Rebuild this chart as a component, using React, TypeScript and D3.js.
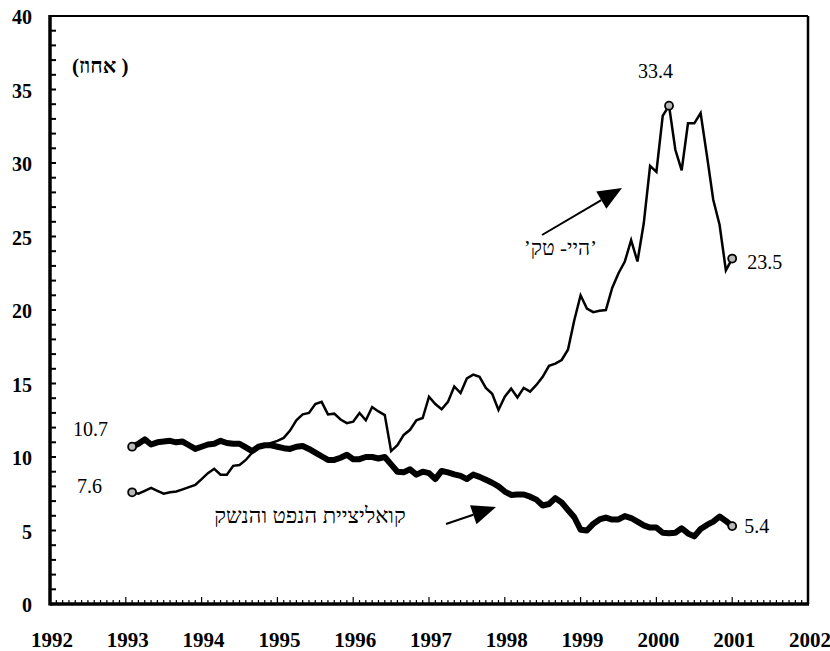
import * as d3 from "d3";
import { useEffect, useRef } from "react";

// monthly observations, Feb 1993 .. Jan 2001
const startYear = 1993;
const hiTech = [
  7.6, 7.5, 7.7, 7.9, 7.7, 7.5, 7.6, 7.65, 7.8, 7.95, 8.1, 8.5,
  8.9, 9.2, 8.8, 8.8, 9.4, 9.46, 9.8, 10.3, 10.6, 10.8, 10.95, 11.1,
  11.3, 11.8, 12.5, 12.9, 13.0, 13.6, 13.75, 12.9, 12.95, 12.55, 12.3, 12.4,
  13.0, 12.5, 13.4, 13.1, 12.85, 10.4, 10.8, 11.5, 11.85, 12.5, 12.65, 14.1,
  13.6, 13.25, 13.75, 14.8, 14.35, 15.35, 15.6, 15.45, 14.7, 14.3, 13.2, 14.1,
  14.65, 14.05, 14.7, 14.45, 14.9, 15.45, 16.2, 16.35, 16.6, 17.3, 19.3, 21.0,
  20.1, 19.85, 19.95, 20.0, 21.5, 22.5, 23.3, 24.75, 23.3, 25.9, 29.8, 29.4,
  33.2, 33.9, 30.9, 29.5, 32.7, 32.7, 33.4, 30.5, 27.5, 25.8, 22.7, 23.5,
];
const oilArms = [
  10.7, 10.9, 11.2, 10.85, 11.0, 11.05, 11.1, 11.0, 11.05, 10.8, 10.55, 10.7,
  10.85, 10.9, 11.1, 10.95, 10.9, 10.9, 10.65, 10.4, 10.7, 10.8, 10.8, 10.7,
  10.6, 10.55, 10.7, 10.75, 10.55, 10.3, 10.05, 9.8, 9.8, 9.95, 10.15, 9.85,
  9.85, 10.0, 10.0, 9.9, 10.0, 9.5, 9.0, 8.97, 9.16, 8.8, 9.0, 8.9,
  8.5, 9.05, 8.95, 8.82, 8.72, 8.5, 8.8, 8.65, 8.45, 8.25, 8.0, 7.65,
  7.42, 7.45, 7.45, 7.3, 7.1, 6.7, 6.8, 7.2, 6.9, 6.4, 5.9, 5.05,
  5.0, 5.45, 5.75, 5.88, 5.74, 5.75, 5.98, 5.85, 5.6, 5.35, 5.2, 5.2,
  4.85, 4.82, 4.85, 5.15, 4.8, 4.6, 5.1, 5.38, 5.6, 5.95, 5.65, 5.3,
];
const peakIndex = 85;
const yTicks = [0, 5, 10, 15, 20, 25, 30, 35, 40];
const years = [1992, 1993, 1994, 1995, 1996, 1997, 1998, 1999, 2000, 2001, 2002];
const unitLabel = "(אחוז )";
const hiTechLabel = "’היי- טק’";
const oilLabel = "קואליציית הנפט והנשק";
const hiTechStartLabel = "7.6";
const oilStartLabel = "10.7";
const hiTechPeakLabel = "33.4";
const hiTechEndLabel = "23.5";
const oilEndLabel = "5.4";

const W = 830;
const H = 651;
const serif = "'Liberation Serif', 'Times New Roman', serif";

export default function App() {
  const ref = useRef<SVGSVGElement>(null);

  useEffect(() => {
    const svg = d3.select(ref.current);
    svg.selectAll("*").remove();

    const x = d3.scaleLinear().domain([1992, 2002]).range([50, 808]);
    const y = d3.scaleLinear().domain([0, 40]).range([604, 16]);
    const t = (i: number) => startYear + (i + 1) / 12;

    // frame
    svg.append("line").attr("x1", x(1992)).attr("x2", x(2002)).attr("y1", y(40)).attr("y2", y(40))
      .attr("stroke", "#000").attr("stroke-width", 2);
    svg.append("line").attr("x1", x(2002)).attr("x2", x(2002)).attr("y1", y(40)).attr("y2", y(0))
      .attr("stroke", "#000").attr("stroke-width", 2.5);

    // y ticks, one per unit
    const yMinor = d3.range(0, 41);
    svg.selectAll(".ytick").data(yMinor).enter().append("line")
      .attr("x1", x(1992)).attr("x2", x(1992) + 6)
      .attr("y1", (d) => y(d)).attr("y2", (d) => y(d))
      .attr("stroke", "#000").attr("stroke-width", 2);

    svg.selectAll(".ylab").data(yTicks).enter().append("text")
      .attr("x", 32).attr("y", (d) => y(d) + 8)
      .attr("text-anchor", "end")
      .attr("font-family", serif).attr("font-weight", "bold").attr("font-size", 20)
      .text((d) => d);

    // x ticks, monthly
    const months = d3.range(0, 121);
    svg.selectAll(".xtick").data(months).enter().append("line")
      .attr("x1", (d) => x(1992 + d / 12)).attr("x2", (d) => x(1992 + d / 12))
      .attr("y1", y(0)).attr("y2", (d) => y(0) - (d % 12 === 0 ? 7 : 4))
      .attr("stroke", "#000").attr("stroke-width", 1.2);

    svg.selectAll(".xlab").data(years).enter().append("text")
      .attr("x", (d) => x(d) + 2).attr("y", 647)
      .attr("text-anchor", "middle")
      .attr("font-family", serif).attr("font-weight", "bold").attr("font-size", 21)
      .text((d) => d);

    // left / bottom axis lines
    svg.append("line").attr("x1", x(1992)).attr("x2", x(1992)).attr("y1", y(40) - 1).attr("y2", y(0) + 1.5)
      .attr("stroke", "#000").attr("stroke-width", 3.5);
    svg.append("line").attr("x1", x(1992)).attr("x2", x(2002) + 1).attr("y1", y(0)).attr("y2", y(0))
      .attr("stroke", "#000").attr("stroke-width", 3.5);

    const line = d3.line<number>().x((_, i) => x(t(i))).y((d) => y(d));

    svg.append("path").datum(hiTech).attr("d", line)
      .attr("fill", "none").attr("stroke", "#000").attr("stroke-width", 2.5)
      .attr("stroke-linejoin", "miter");
    svg.append("path").datum(oilArms).attr("d", line)
      .attr("fill", "none").attr("stroke", "#000").attr("stroke-width", 6)
      .attr("stroke-linejoin", "round");

    const dots = [
      { i: 0, v: hiTech[0] },
      { i: 0, v: oilArms[0] },
      { i: peakIndex, v: hiTech[peakIndex] },
      { i: hiTech.length - 1, v: hiTech[hiTech.length - 1] },
      { i: oilArms.length - 1, v: oilArms[oilArms.length - 1] },
    ];
    svg.selectAll(".dot").data(dots).enter().append("circle")
      .attr("cx", (d) => x(t(d.i))).attr("cy", (d) => y(d.v)).attr("r", 4)
      .attr("fill", "#b8b8b8").attr("stroke", "#000").attr("stroke-width", 1.8);

    const valueText = (tx: number, ty: number, s: string, anchor = "start") =>
      svg.append("text").attr("x", tx).attr("y", ty).attr("text-anchor", anchor)
        .attr("font-family", serif).attr("font-size", 20).text(s);

    const firstX = x(t(0));
    const lastX = x(t(hiTech.length - 1));
    valueText(firstX - 24, y(oilArms[0]) - 11, oilStartLabel, "end");
    valueText(firstX - 30, y(hiTech[0]) + 1, hiTechStartLabel, "end");
    valueText(x(t(peakIndex)) + 4, y(hiTech[peakIndex]) - 28, hiTechPeakLabel, "end");
    valueText(lastX + 15, y(hiTech[hiTech.length - 1]) + 10, hiTechEndLabel);
    valueText(lastX + 12, y(oilArms[oilArms.length - 1]) + 7, oilEndLabel);

    // hebrew annotations
    svg.append("text").attr("x", 72).attr("y", 73)
      .attr("font-family", serif).attr("font-size", 21).attr("font-weight", "bold")
      .text(unitLabel);
    svg.append("text").attr("x", 597).attr("y", 255).attr("text-anchor", "end")
      .attr("font-family", serif).attr("font-size", 21)
      .text(hiTechLabel);
    svg.append("text").attr("x", 310).attr("y", 523).attr("text-anchor", "middle")
      .attr("font-family", serif).attr("font-size", 22)
      .text(oilLabel);

    // arrows
    const arrow = (x1: number, y1: number, x2: number, y2: number) => {
      const a = Math.atan2(y2 - y1, x2 - x1);
      const len = 24;
      const half = 10;
      const bx = x2 - len * Math.cos(a);
      const by = y2 - len * Math.sin(a);
      svg.append("line").attr("x1", x1).attr("y1", y1).attr("x2", bx).attr("y2", by)
        .attr("stroke", "#000").attr("stroke-width", 2);
      const pts = [
        [x2, y2],
        [bx + half * Math.sin(a), by - half * Math.cos(a)],
        [bx - half * Math.sin(a), by + half * Math.cos(a)],
      ];
      svg.append("polygon").attr("points", pts.map((p) => p.join(",")).join(" ")).attr("fill", "#000");
    };
    arrow(542, 235, 622, 188);
    arrow(446, 524, 496, 507);
  }, []);

  return (
    <svg ref={ref} width={W} height={H}
      style={{ position: "absolute", left: 0, top: 0, background: "#fff" }} />
  );
}
